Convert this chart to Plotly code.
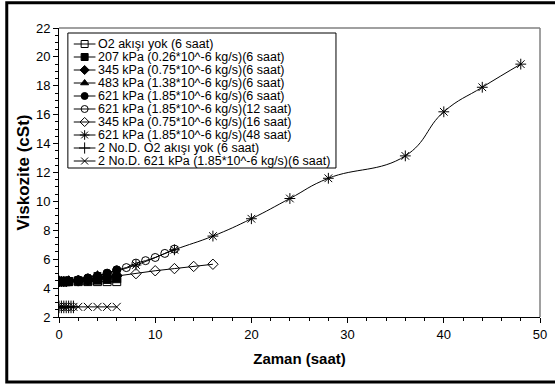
import plotly.graph_objects as go

# ---- data ----
t6 = [0, 0.25, 0.5, 0.75, 1, 2, 3, 4, 5, 6]
o2_yok = [4.45, 4.45, 4.45, 4.45, 4.45, 4.45, 4.45, 4.45, 4.45, 4.45]
p207 = [4.45, 4.45, 4.45, 4.45, 4.45, 4.5, 4.5, 4.55, 4.6, 4.65]
p345 = [4.45, 4.45, 4.45, 4.45, 4.5, 4.5, 4.55, 4.65, 4.75, 4.85]
p483 = [4.5, 4.5, 4.5, 4.5, 4.5, 4.55, 4.6, 4.75, 4.9, 5.05]
p621 = [4.5, 4.5, 4.5, 4.5, 4.5, 4.57, 4.7, 4.85, 5.03, 5.26]

t12 = [0, 1, 2, 3, 4, 5, 6, 7, 8, 9, 10, 11, 12]
p621_12 = [4.5, 4.5, 4.57, 4.7, 4.85, 5.03, 5.26, 5.42, 5.73, 5.9, 6.12, 6.4, 6.7]

t16 = [0, 2, 4, 6, 8, 10, 12, 14, 16]
p345_16 = [4.45, 4.5, 4.65, 4.85, 5.0, 5.2, 5.35, 5.5, 5.65]

t48 = [0, 4, 8, 12, 16, 20, 24, 28, 36, 40, 44, 48]
p621_48 = [4.5, 4.85, 5.6, 6.65, 7.6, 8.8, 10.2, 11.6, 13.15, 16.2, 17.9, 19.5]

td = [0, 0.25, 0.5, 0.75, 1, 1.25, 1.5]
d_o2_yok = [2.7, 2.7, 2.7, 2.7, 2.7, 2.7, 2.7]

tdx = [0, 0.25, 0.5, 0.75, 1, 1.5, 2, 3, 4, 5, 6]
d_p621 = [2.7, 2.7, 2.7, 2.7, 2.7, 2.7, 2.7, 2.7, 2.7, 2.7, 2.7]

names = [
    "O2 akışı yok (6 saat)",
    "207 kPa (0.26*10^-6 kg/s)(6 saat)",
    "345 kPa (0.75*10^-6 kg/s)(6 saat)",
    "483 kPa (1.38*10^-6 kg/s)(6 saat)",
    "621 kPa (1.85*10^-6 kg/s)(6 saat)",
    "621 kPa (1.85*10^-6 kg/s)(12 saat)",
    "345 kPa (0.75*10^-6 kg/s)(16 saat)",
    "621 kPa (1.85*10^-6 kg/s)(48 saat)",
    "2 No.D. O2 akışı yok (6 saat)",
    "2 No.D. 621 kPa (1.85*10^-6 kg/s)(6 saat)",
]

series = [
    (t6, o2_yok, "square-open", 8, "linear"),
    (t6, p207, "square", 8, "linear"),
    (t6, p345, "diamond", 8, "linear"),
    (t6, p483, "triangle-up", 8, "linear"),
    (t6, p621, "circle", 8, "linear"),
    (t12, p621_12, "circle-open", 8, "linear"),
    (t16, p345_16, "diamond-open", 8, "linear"),
    (t48, p621_48, "asterisk-open", 9, "spline"),
    (td, d_o2_yok, "cross-thin-open", 9, "linear"),
    (tdx, d_p621, "x-thin-open", 8, "linear"),
]

FONT = "Arial, Liberation Sans, sans-serif"

fig = go.Figure()
for (x, y, sym, sz, shape), nm in zip(series, names):
    fig.add_trace(go.Scatter(
        x=x, y=y, name=nm, mode="lines+markers", showlegend=False,
        line=dict(color="black", width=1, shape=shape, smoothing=1.3),
        marker=dict(symbol=sym, size=sz, color="black",
                    line=dict(color="black", width=1)),
    ))

# ---- custom compact legend drawn on a hidden overlay axis (pixel-like units) ----
PW, PH = 488, 289
row0, rowstep = 273, 13.0
annotations = []
for i, ((x, y, sym, sz, shape), nm) in enumerate(zip(series, names)):
    yy = row0 - i * rowstep
    fig.add_trace(go.Scatter(
        x=[15, 37], y=[yy, yy], mode="lines", xaxis="x2", yaxis="y2",
        showlegend=False, hoverinfo="skip",
        line=dict(color="black", width=1),
    ))
    fig.add_trace(go.Scatter(
        x=[26], y=[yy], mode="markers", xaxis="x2", yaxis="y2",
        showlegend=False, hoverinfo="skip",
        marker=dict(symbol=sym, size=sz - 1, color="black",
                    line=dict(color="black", width=1)),
    ))
    annotations.append(dict(
        x=38, y=yy, xref="x2", yref="y2", text=nm, showarrow=False,
        xanchor="left", yanchor="middle",
        font=dict(family=FONT, size=12.5, color="black"),
    ))

axis_common = dict(
    showline=True, linecolor="black", linewidth=1,
    ticks="outside", ticklen=5, tickcolor="black", showgrid=False,
    zeroline=False, tickfont=dict(family=FONT, size=13, color="black"),
)
fig.update_layout(
    xaxis=dict(range=[0, 50], dtick=10,
               minor=dict(dtick=2, ticks="outside", ticklen=3, tickcolor="black"),
               title=dict(text="<b>Zaman (saat)</b>",
                          font=dict(family=FONT, size=15, color="black"),
                          standoff=12),
               **axis_common),
    yaxis=dict(range=[2, 22], dtick=2,
               minor=dict(dtick=0.5, ticks="outside", ticklen=3, tickcolor="black"),
               title=dict(text="<b>Viskozite (cSt)</b>",
                          font=dict(family=FONT, size=17, color="black"),
                          standoff=1),
               **axis_common),
    xaxis2=dict(overlaying="x", range=[0, PW], visible=False, fixedrange=True),
    yaxis2=dict(overlaying="y", range=[0, PH], visible=False, fixedrange=True),
    width=555, height=385,
    margin=dict(l=59, r=8, t=28, b=68),
    plot_bgcolor="white", paper_bgcolor="white",
    font=dict(family=FONT, size=11, color="black"),
    showlegend=False,
    annotations=annotations,
    shapes=[
        dict(type="line", xref="paper", yref="paper", x0=0, x1=1, y0=1, y1=1,
             line=dict(color="#808080", width=1.5)),
        dict(type="line", xref="paper", yref="paper", x0=1, x1=1, y0=0, y1=1,
             line=dict(color="#808080", width=1.5)),
        dict(type="rect", xref="x2", yref="y2", x0=9, x1=281, y0=149, y1=284,
             line=dict(color="black", width=1), fillcolor="white", layer="below"),
        dict(type="rect", xref="paper", yref="paper",
             x0=-0.1086, x1=1.06, y0=-0.225, y1=1.087,
             line=dict(color="black", width=3)),
    ],
)

fig.write_html("out.html")
